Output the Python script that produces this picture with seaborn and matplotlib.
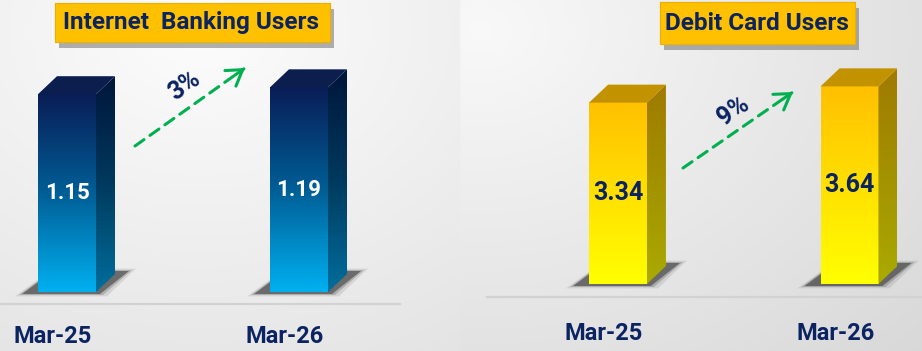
import numpy as np
import pandas as pd
import matplotlib
matplotlib.use("Agg")
import matplotlib.pyplot as plt
import matplotlib.patheffects as pe
from matplotlib.patches import Polygon, Rectangle
from matplotlib.colors import LinearSegmentedColormap
from matplotlib.transforms import ScaledTranslation
import seaborn as sns

# ---- data -------------------------------------------------------------
periods = ["Mar-25", "Mar-26"]
internet_banking_users = [1.15, 1.19]
debit_card_users = [3.34, 3.64]
panel_titles = ["Internet  Banking Users", "Debit Card Users"]

# ---- styling ----------------------------------------------------------
W, H, DPI = 922, 351, 100
NAVY = "#0B2461"
GREEN = "#00B050"
TITLE_FILL = "#FFC000"

sns.set_theme(style="white")
plt.rcParams["font.family"] = ["Roboto", "DejaVu Sans"]
plt.rcParams["font.weight"] = "bold"

blue_front = LinearSegmentedColormap.from_list("bf", ["#0A1D57", "#005E96", "#00B0F0"])
blue_side = LinearSegmentedColormap.from_list("bs", ["#00153A", "#003A5E", "#006E9C"])
gold_front = LinearSegmentedColormap.from_list("gf", ["#FFC000", "#FFE000", "#FFFF00"])
gold_side = LinearSegmentedColormap.from_list("gs", ["#A07A00", "#A39200", "#AAAA00"])

DEPTH = np.array([19.0, 18.0])  # side/top face offset in pixels


def px_rect(left, top, width, height):
    return [left / W, 1 - (top + height) / H, width / W, height / H]


def fig_px(x, y):
    return (x, H - y)


fig = plt.figure(figsize=(W / DPI, H / DPI), dpi=DPI)

# soft grey background, lighter towards the upper left of each panel
bg = fig.add_axes([0, 0, 1, 1], zorder=-10)
yy, xx = np.mgrid[0:H, 0:W].astype(float)
left_r = np.hypot((xx - 200) / 460, (yy - 30) / 351)
right_r = np.hypot((xx - 480) / 460, (yy - 30) / 351)
shade = np.where(xx < 460, 0.99 - 0.09 * left_r, 0.975 - 0.095 * right_r)
bg.imshow(np.dstack([shade] * 3), extent=(0, W, H, 0), origin="upper", aspect="auto")
bg.set_xlim(0, W)
bg.set_ylim(H, 0)
bg.axis("off")


def draw_depth(ax, front_cmap, side_cmap, top_color):
    to_disp = ax.transData.transform
    to_data = ax.transData.inverted().transform
    grad = np.linspace(0, 1, 256).reshape(-1, 1)
    for bar in ax.patches[:]:
        x0, w, h = bar.get_x(), bar.get_width(), bar.get_height()
        x1 = x0 + w
        bar.set_facecolor("none")
        bar.set_edgecolor("none")
        bl, br, tr, tl = to_disp([(x0, 0), (x1, 0), (x1, h), (x0, h)])

        # soft cast shadow on the floor
        for grow, alpha in [(7, 0.10), (3, 0.20), (0, 0.45)]:
            shadow = np.array([
                bl + (-16 - grow, -2 - grow / 3),
                br + (4 + grow, -2 - grow / 3),
                br + (33 + grow, 21 + grow / 3),
                bl + (15, 21 + grow / 3),
            ])
            ax.add_patch(Polygon(to_data(shadow), closed=True, facecolor="#1A1A1A",
                                 edgecolor="none", alpha=alpha, zorder=2))

        # front face
        ax.imshow(grad, cmap=front_cmap, extent=(x0, x1, 0, h), origin="upper",
                  aspect="auto", zorder=3, interpolation="bilinear")

        # side face
        side = to_data(np.array([br, tr, tr + DEPTH, br + DEPTH]))
        side_poly = Polygon(side, closed=True, facecolor="none", edgecolor="none")
        ax.add_patch(side_poly)
        im = ax.imshow(grad, cmap=side_cmap,
                       extent=(side[:, 0].min(), side[:, 0].max(), side[:, 1].min(), side[:, 1].max()),
                       origin="upper", aspect="auto", zorder=3, interpolation="bilinear")
        im.set_clip_path(side_poly)

        # top face
        top = to_data(np.array([tl, tr, tr + DEPTH, tl + DEPTH]))
        ax.add_patch(Polygon(top, closed=True, facecolor=top_color, edgecolor="none", zorder=3))


panels = [
    dict(values=internet_banking_users, title=panel_titles[0],
         rect=px_rect(0, 0, 400, 304), xlim=(-67 / 232, 333 / 232), ylim=(-12 / 172, 292 / 172),
         front=blue_front, side=blue_side, top="#0B1E4E", label_color="white", label_size=16,
         title_box=(55, 3, 275, 39), title_center=(191, 23), tick_pad=15,
         arrow=((135, 146), (245, 68)), pct_pos=(185, 86)),
    dict(values=debit_card_users, title=panel_titles[1],
         rect=px_rect(487, 0, 435, 297), xlim=(-131 / 231.5, 304 / 231.5), ylim=(-13 / 54.3, 284 / 54.3),
         front=gold_front, side=gold_side, top="#C29200", label_color=NAVY, label_size=18,
         title_box=(660, 2, 195, 42), title_center=(757, 23), tick_pad=18,
         arrow=((683, 168), (793, 92)), pct_pos=(733, 111)),
]

for p in panels:
    ax = fig.add_axes(p["rect"])
    df = pd.DataFrame({"period": periods, "users": p["values"]})
    sns.barplot(data=df, x="period", y="users", ax=ax, width=0.25, color="#888888",
                saturation=1, errorbar=None)
    ax.set_xlim(*p["xlim"])
    ax.set_ylim(*p["ylim"])
    ax.set_facecolor("none")
    ax.set_xlabel("")
    ax.set_ylabel("")
    ax.set_yticks([])
    for side_name in ["top", "left", "right"]:
        ax.spines[side_name].set_visible(False)
    ax.spines["bottom"].set_color("#D2D2D2")
    ax.spines["bottom"].set_linewidth(1.6)
    ax.tick_params(axis="x", length=0, pad=p["tick_pad"], labelsize=17, labelcolor=NAVY)
    shift = ScaledTranslation(-14 / DPI, 0, fig.dpi_scale_trans)
    for lbl in ax.get_xticklabels():
        lbl.set_fontweight("bold")
        lbl.set_transform(lbl.get_transform() + shift)

    draw_depth(ax, p["front"], p["side"], p["top"])

    # value labels centred on the front faces
    for bar, val in zip(ax.patches, p["values"]):
        ax.text(bar.get_x() + bar.get_width() / 2, val / 2, f"{val:.2f}",
                ha="center", va="center", fontsize=p["label_size"], fontweight="bold",
                color=p["label_color"], zorder=5)

    # growth arrow with percentage
    start, end = p["arrow"]
    ax.annotate("", xy=fig_px(*end), xytext=fig_px(*start), xycoords="figure pixels",
                textcoords="figure pixels", annotation_clip=False,
                arrowprops=dict(arrowstyle="-", color=GREEN, lw=2.2,
                                linestyle=(0, (3.6, 2.4)), shrinkA=0, shrinkB=1))
    direction = np.array(end, float) - np.array(start, float)
    direction /= np.hypot(*direction)
    head_from = np.array(end) - direction * 12
    ax.annotate("", xy=fig_px(*end), xytext=fig_px(*head_from), xycoords="figure pixels",
                textcoords="figure pixels", annotation_clip=False,
                arrowprops=dict(arrowstyle="->,head_length=0.6,head_width=0.38", color=GREEN,
                                lw=2.2, shrinkA=0, shrinkB=0, mutation_scale=18))
    growth = (p["values"][1] - p["values"][0]) / p["values"][0] * 100
    angle = np.degrees(np.arctan2(-direction[1], direction[0]))
    fig.text(p["pct_pos"][0] / W, 1 - p["pct_pos"][1] / H, f"{growth:.0f}%",
             rotation=angle, ha="center", va="center", rotation_mode="anchor",
             fontsize=18, fontweight="bold", color=NAVY)

    # title box with drop shadow
    bx, by, bw, bh = p["title_box"]
    box = Rectangle((bx / W, 1 - (by + bh) / H), bw / W, bh / H, transform=fig.transFigure,
                    facecolor=TITLE_FILL, edgecolor="#E9B200", linewidth=0.8, zorder=4)
    box.set_path_effects([pe.withSimplePatchShadow(offset=(3, -4), shadow_rgbFace="#555555", alpha=0.45),
                          pe.Normal()])
    fig.add_artist(box)
    fig.text(p["title_center"][0] / W, 1 - p["title_center"][1] / H, p["title"],
             ha="center", va="center", fontsize=17.5, fontweight="bold", color=NAVY, zorder=5)

fig.savefig("out.png", dpi=DPI)
